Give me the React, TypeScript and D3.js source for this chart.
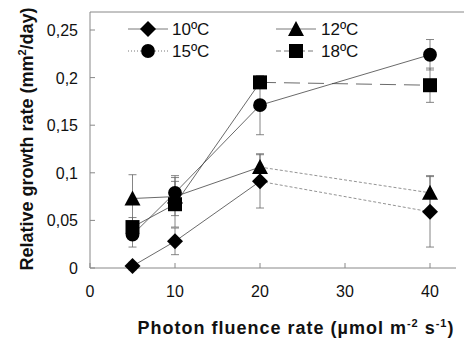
import * as d3 from "d3"

// photon fluence levels
const fluence = [5, 10, 20, 40]

// relative growth rate per temperature
const temps = ["10ºC", "12ºC", "15ºC", "18ºC"]
const rate10 = [0.002, 0.028, 0.091, 0.059]
const rate12 = [0.073, 0.075, 0.106, 0.079]
const rate15 = [0.035, 0.079, 0.171, 0.224]
const rate18 = [0.043, 0.067, 0.195, 0.192]
const err10 = [0.004, 0.014, 0.028, 0.037]
const err12 = [0.025, 0.02, 0.014, 0.018]
const err15 = [0.013, 0.018, 0.031, 0.016]
const err18 = [0.01, 0.024, 0.006, 0.018]

const yTicks = [0, 0.05, 0.1, 0.15, 0.2, 0.25]
const xTicks = [0, 10, 20, 30, 40]

const W = 468
const H = 342
const margin = { top: 12, right: 4, bottom: 74, left: 90 }

const x = d3.scaleLinear().domain([0, 40]).range([90, 430])
const y = d3.scaleLinear().domain([0, 0.25]).range([268, 30])

// last segment (20 -> 40) drawn with its own style
const series = [
  { name: temps[0], vals: rate10, errs: err10, shape: "diamond", lastDash: "3,2", lastColor: "#777" },
  { name: temps[1], vals: rate12, errs: err12, shape: "triangle", lastDash: "3,2", lastColor: "#777" },
  { name: temps[2], vals: rate15, errs: err15, shape: "circle", lastDash: null, lastColor: "#444" },
  { name: temps[3], vals: rate18, errs: err18, shape: "square", lastDash: "16,8", lastColor: "#444" },
]

const symbolPath = (shape: string) => {
  if (shape === "diamond") return "M0,-8L8,0L0,8L-8,0Z"
  if (shape === "triangle") return "M0,-8L8,7L-8,7Z"
  if (shape === "square") return "M-7,-7H7V7H-7Z"
  return d3.symbol(d3.symbolCircle, 150)() as string
}

const fmt = (v: number) => String(v).replace(".", ",")

export default function App() {
  const line = d3
    .line<number>()
    .x((_, i) => x(fluence[i]))
    .y((d) => y(d))

  const line2 = d3
    .line<number>()
    .x((_, i) => x(fluence[i + 2]))
    .y((d) => y(d))

  const plotRight = W - margin.right
  const bottom = H - margin.bottom

  const legend = [
    { lx: 148, ly: 29, tx: 172 },
    { lx: 296, ly: 29, tx: 321 },
    { lx: 148, ly: 51, tx: 172 },
    { lx: 296, ly: 51, tx: 321 },
  ]
  const legendDash = [undefined, undefined, "1,2", "5,3"]

  return (
    <svg width={W} height={H} style={{ position: "absolute", left: 0, top: 0, background: "#fff" }} fontFamily="'Liberation Sans', Arial, sans-serif">
      {/* frame */}
      <line x1={90} x2={plotRight} y1={margin.top} y2={margin.top} stroke="#888" strokeWidth={1} />
      <line x1={90} x2={90} y1={margin.top} y2={bottom} stroke="#888" strokeWidth={1} />
      <line x1={90} x2={456} y1={bottom} y2={bottom} stroke="#888" strokeWidth={1} />

      {yTicks.map((t) => (
        <g key={t}>
          <line x1={90} x2={95} y1={y(t)} y2={y(t)} stroke="#888" />
          <text x={78} y={y(t) + 6} fontSize={16} textAnchor="end" fill="#111">
            {fmt(t)}
          </text>
        </g>
      ))}
      {xTicks.map((t) => (
        <g key={t}>
          <line x1={x(t)} x2={x(t)} y1={bottom} y2={bottom - 5} stroke="#888" />
          <text x={x(t)} y={297} fontSize={16} textAnchor="middle" fill="#111">
            {t}
          </text>
        </g>
      ))}

      {/* error bars */}
      {series.map((s) =>
        s.vals.map((v, i) => (
          <g key={s.name + i} stroke="#666" strokeWidth={0.8}>
            <line x1={x(fluence[i])} x2={x(fluence[i])} y1={y(v - s.errs[i])} y2={y(v + s.errs[i])} />
            <line x1={x(fluence[i]) - 4} x2={x(fluence[i]) + 4} y1={y(v - s.errs[i])} y2={y(v - s.errs[i])} />
            <line x1={x(fluence[i]) - 4} x2={x(fluence[i]) + 4} y1={y(v + s.errs[i])} y2={y(v + s.errs[i])} />
          </g>
        ))
      )}

      {/* lines */}
      {series.map((s) => (
        <g key={s.name} fill="none" strokeWidth={0.8}>
          <path d={line(s.vals.slice(0, 3)) as string} stroke="#444" />
          <path d={line2(s.vals.slice(2)) as string} stroke={s.lastColor} strokeDasharray={s.lastDash ?? undefined} />
        </g>
      ))}

      {/* markers */}
      {series.map((s) =>
        s.vals.map((v, i) => (
          <path key={s.name + "m" + i} d={symbolPath(s.shape)} transform={`translate(${x(fluence[i])},${y(v)})`} fill="#000" />
        ))
      )}

      {/* legend */}
      {series.map((s, i) => {
        const l = legend[i]
        return (
          <g key={s.name}>
            <line x1={l.lx - 20} x2={l.lx + 20} y1={l.ly} y2={l.ly} stroke="#555" strokeWidth={0.8} strokeDasharray={legendDash[i]} />
            <path d={symbolPath(s.shape)} transform={`translate(${l.lx},${l.ly})`} fill="#000" />
            <text x={l.tx} y={l.ly + 6} fontSize={17} fill="#111">
              {s.name}
            </text>
          </g>
        )
      })}

      {/* axis titles */}
      <text x={296} y={334} fontSize={18} fontWeight="bold" textAnchor="middle" fill="#111" letterSpacing={1}>
        Photon fluence rate (µmol m<tspan dy={-7} fontSize={11}>-2</tspan>
        <tspan dy={7}> s</tspan>
        <tspan dy={-7} fontSize={11}>-1</tspan>
        <tspan dy={7}>)</tspan>
      </text>
      <text transform="translate(33,139) rotate(-90)" fontSize={18} fontWeight="bold" textAnchor="middle" fill="#111">
        Relative growth rate (mm<tspan dy={-7} fontSize={11}>2</tspan>
        <tspan dy={7}>/day)</tspan>
      </text>
    </svg>
  )
}
